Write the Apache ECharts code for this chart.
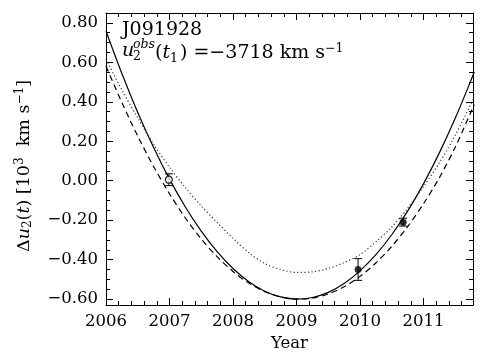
<!DOCTYPE html>
<html>
<head>
<meta charset="utf-8">
<script src="https://cdn.jsdelivr.net/npm/echarts@6.0.0/dist/echarts.min.js"></script>
<style>
html, body { margin: 0; padding: 0; background: #fff; }
#chart { width: 485px; height: 364px; }
</style>
</head>
<body>
<div id="chart"></div>
<script>
// model curves, every quarter year
const years = [2006.00, 2006.25, 2006.50, 2006.75, 2007.00, 2007.25, 2007.50, 2007.75,
  2008.00, 2008.25, 2008.50, 2008.75, 2009.00, 2009.25, 2009.50, 2009.75,
  2010.00, 2010.25, 2010.50, 2010.75, 2011.00, 2011.25, 2011.50, 2011.75, 2011.80];
const solidVals = [0.759, 0.543, 0.346, 0.168, 0.008, -0.133, -0.256, -0.360,
  -0.445, -0.512, -0.560, -0.589, -0.600, -0.592, -0.566, -0.521,
  -0.457, -0.375, -0.274, -0.154, -0.016, 0.141, 0.316, 0.510, 0.552];
const dashedVals = [0.581, 0.396, 0.226, 0.072, -0.066, -0.189, -0.295, -0.385,
  -0.460, -0.519, -0.562, -0.589, -0.600, -0.595, -0.574, -0.538,
  -0.485, -0.417, -0.333, -0.233, -0.117, 0.015, 0.170, 0.350, 0.385];
const dottedVals = [0.615, 0.460, 0.318, 0.185, 0.068, -0.035, -0.128, -0.212,
  -0.292, -0.365, -0.420, -0.450, -0.465, -0.462, -0.445, -0.415,
  -0.375, -0.310, -0.235, -0.140, -0.030, 0.090, 0.230, 0.390, 0.420];

// observed points
const obsYears = [2006.99, 2009.97, 2010.68];
const obsVals = [0.005, -0.45, -0.21];
const obsErr = [0.03, 0.055, 0.02];
const obsFilled = [false, true, true];

const serif = 'DejaVu Serif';

const pairs = (xs, ys) => xs.map((x, i) => [x, ys[i]]);

const chart = echarts.init(document.getElementById('chart'));

const baseX = {
  type: 'value',
  min: 2006,
  max: 2011.78,
  interval: 1,
  axisLine: { show: true, onZero: false, lineStyle: { color: '#000', width: 1 } },
  axisTick: { show: true, inside: true, length: 7, lineStyle: { color: '#000' } },
  minorTick: { show: true, splitNumber: 5, length: 4, lineStyle: { color: '#000' } },
  splitLine: { show: false },
  axisLabel: {
    show: true, color: '#000', fontFamily: serif, fontSize: 16.5, margin: 8,
    showMaxLabel: false,
    formatter: v => String(Math.round(v))
  }
};

const baseY = {
  type: 'value',
  min: -0.63,
  max: 0.85,
  splitNumber: 7,
  axisLine: { show: true, onZero: false, lineStyle: { color: '#000', width: 1 } },
  axisTick: { show: true, inside: true, length: 7, lineStyle: { color: '#000' } },
  minorTick: { show: true, splitNumber: 4, length: 4, lineStyle: { color: '#000' } },
  splitLine: { show: false },
  axisLabel: {
    show: true, color: '#000', fontFamily: serif, fontSize: 16.5, margin: 8,
    showMinLabel: false, showMaxLabel: false,
    formatter: v => v.toFixed(2).replace('-', '\u2212')
  }
};

const option = {
  animation: false,
  backgroundColor: '#fff',
  grid: { left: 106, right: 12, top: 13, bottom: 59 },
  xAxis: [
    Object.assign({}, baseX, {
      position: 'bottom',
      name: 'Year', nameLocation: 'middle', nameGap: 30,
      nameTextStyle: { color: '#000', fontFamily: serif, fontSize: 16.5 }
    }),
    Object.assign({}, baseX, { position: 'top', axisLabel: { show: false } })
  ],
  yAxis: [
    Object.assign({}, baseY, {
      position: 'left',
      name: '{n|\u0394}{i|u}{s|2}{n|(}{i|t}{n|) [10}{p|3}{n|  km s}{p|\u22121}{n|]}',
      nameLocation: 'middle', nameGap: 72, nameRotate: 90,
      nameTextStyle: {
        color: '#000', fontFamily: serif, fontSize: 17.5,
        padding: [0, 14, 0, 0],
        rich: {
          n: { fontFamily: serif, fontSize: 17.5, color: '#000' },
          i: { fontFamily: serif, fontStyle: 'italic', fontSize: 17.5, color: '#000' },
          s: { fontFamily: serif, fontSize: 12, color: '#000', padding: [8, 0, 0, 0] },
          p: { fontFamily: serif, fontSize: 12, color: '#000', padding: [0, 0, 8, 0] }
        }
      }
    }),
    Object.assign({}, baseY, { position: 'right', axisLabel: { show: false } })
  ],
  graphic: [
    { type: 'text', left: 122, top: 21,
      style: { text: 'J091928', fontFamily: serif, fontSize: 19, fill: '#000' } },
    { type: 'text', left: 122, top: 42,
      style: { text: 'u', fontFamily: serif, fontStyle: 'italic', fontSize: 19, fill: '#000' } },
    { type: 'text', left: 133, top: 38,
      style: { text: 'obs', fontFamily: serif, fontStyle: 'italic', fontSize: 12.5, fill: '#000' } },
    { type: 'text', left: 133, top: 50,
      style: { text: '2', fontFamily: serif, fontSize: 12.5, fill: '#000' } },
    { type: 'text', left: 155, top: 42,
      style: {
        text: '{n|(}{i|t}{s|1}{n|) =\u22123718 km s}{p|\u22121}',
        rich: {
          n: { fontFamily: serif, fontSize: 19, fill: '#000' },
          i: { fontFamily: serif, fontStyle: 'italic', fontSize: 19, fill: '#000' },
          s: { fontFamily: serif, fontSize: 12.5, fill: '#000', padding: [10, 2, 0, 0] },
          p: { fontFamily: serif, fontSize: 12.5, fill: '#000', padding: [0, 0, 10, 0] }
        }
      } }
  ],
  series: [
    {
      type: 'line', data: pairs(years, solidVals), smooth: 0.3, symbol: 'none',
      lineStyle: { color: '#000', width: 1.2, type: 'solid' }, clip: true, z: 3
    },
    {
      type: 'line', data: pairs(years, dashedVals), smooth: 0.3, symbol: 'none',
      lineStyle: { color: '#000', width: 1.2, type: [6, 4] }, clip: true, z: 3
    },
    {
      type: 'line', data: pairs(years, dottedVals), smooth: 0.3, symbol: 'none',
      lineStyle: { color: '#333', width: 1.2, type: [1.2, 2.4] }, clip: true, z: 3
    },
    {
      // error bars with caps
      type: 'custom',
      data: obsYears.map((x, i) => [x, obsVals[i], obsErr[i]]),
      renderItem: (params, api) => {
        const x = api.value(0), y = api.value(1), e = api.value(2);
        const lo = api.coord([x, y - e]);
        const hi = api.coord([x, y + e]);
        const cap = 4;
        const st = { stroke: '#000', lineWidth: 1 };
        return {
          type: 'group',
          children: [
            { type: 'line', shape: { x1: lo[0], y1: lo[1], x2: hi[0], y2: hi[1] }, style: st },
            { type: 'line', shape: { x1: lo[0] - cap, y1: lo[1], x2: lo[0] + cap, y2: lo[1] }, style: st },
            { type: 'line', shape: { x1: hi[0] - cap, y1: hi[1], x2: hi[0] + cap, y2: hi[1] }, style: st }
          ]
        };
      },
      z: 4
    },
    {
      type: 'scatter',
      data: obsYears.map((x, i) => ({
        value: [x, obsVals[i]],
        itemStyle: obsFilled[i]
          ? { color: '#000' }
          : { color: '#fff', borderColor: '#000', borderWidth: 1.3 }
      })),
      symbol: 'circle',
      symbolSize: 7,
      z: 5
    }
  ]
};

chart.setOption(option);
</script>
</body>
</html>
